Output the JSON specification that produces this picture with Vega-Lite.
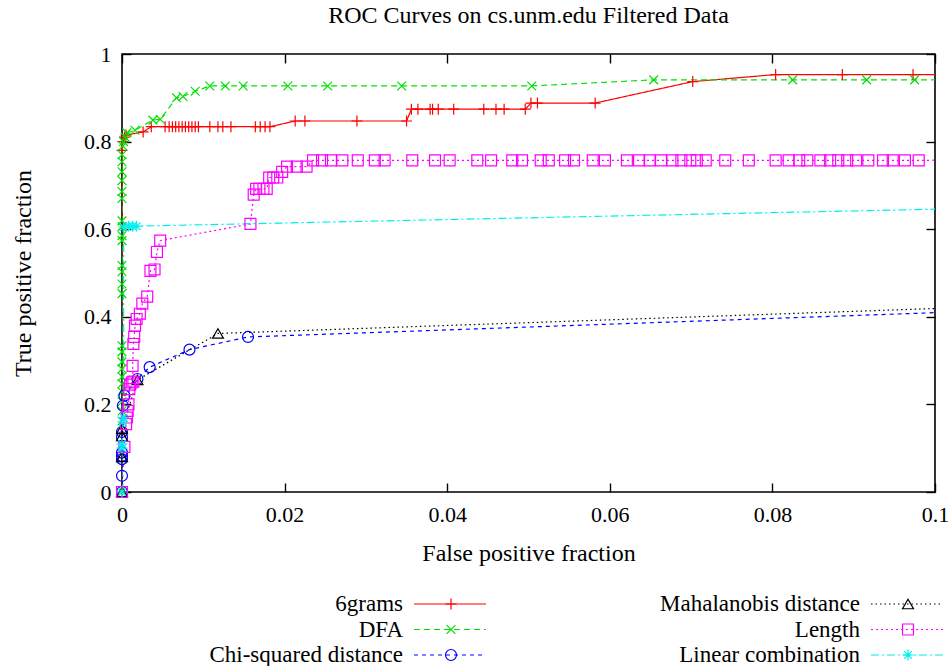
{
  "$schema": "https://vega.github.io/schema/vega-lite/v6.json",
  "padding": {"left": 10, "top": 3, "right": 0, "bottom": 0},
  "background": "white",
  "config": {
    "font": "Liberation Serif",
    "view": {"stroke": "black", "strokeWidth": 1.6},
    "axis": {"grid": false, "domain": false, "tickColor": "black", "tickWidth": 1.4, "tickSize": -9, "labelFont": "Liberation Serif", "labelFontSize": 22, "labelColor": "black", "titleFont": "Liberation Serif", "titleFontSize": 24, "titleFontWeight": "normal", "titleColor": "black", "labelFlush": false}
  },
  "datasets": {
    "curves": [
      {"s":"6grams","i":0,"fx":0,"fy":0},{"s":"6grams","i":1,"fx":0,"fy":0.78},{"s":"6grams","i":2,"fx":0.0001,"fy":0.8},{"s":"6grams","i":3,"fx":0.0003,"fy":0.81},{"s":"6grams","i":4,"fx":0.0005,"fy":0.815},{"s":"6grams","i":5,"fx":0.0026,"fy":0.822},{"s":"6grams","i":6,"fx":0.0036,"fy":0.834},{"s":"6grams","i":7,"fx":0.0053,"fy":0.834},{"s":"6grams","i":8,"fx":0.0058,"fy":0.834},{"s":"6grams","i":9,"fx":0.0062,"fy":0.834},{"s":"6grams","i":10,"fx":0.0066,"fy":0.834},{"s":"6grams","i":11,"fx":0.007,"fy":0.834},{"s":"6grams","i":12,"fx":0.0074,"fy":0.834},{"s":"6grams","i":13,"fx":0.0078,"fy":0.834},{"s":"6grams","i":14,"fx":0.0082,"fy":0.834},{"s":"6grams","i":15,"fx":0.0086,"fy":0.834},{"s":"6grams","i":16,"fx":0.009,"fy":0.834},{"s":"6grams","i":17,"fx":0.0094,"fy":0.834},{"s":"6grams","i":18,"fx":0.0108,"fy":0.834},{"s":"6grams","i":19,"fx":0.0118,"fy":0.834},{"s":"6grams","i":20,"fx":0.0124,"fy":0.834},{"s":"6grams","i":21,"fx":0.0134,"fy":0.834},{"s":"6grams","i":22,"fx":0.0164,"fy":0.834},{"s":"6grams","i":23,"fx":0.017,"fy":0.834},{"s":"6grams","i":24,"fx":0.0176,"fy":0.834},{"s":"6grams","i":25,"fx":0.0182,"fy":0.834},{"s":"6grams","i":26,"fx":0.0213,"fy":0.847},{"s":"6grams","i":27,"fx":0.0225,"fy":0.847},{"s":"6grams","i":28,"fx":0.0289,"fy":0.847},{"s":"6grams","i":29,"fx":0.035,"fy":0.847},{"s":"6grams","i":30,"fx":0.0356,"fy":0.874},{"s":"6grams","i":31,"fx":0.0364,"fy":0.874},{"s":"6grams","i":32,"fx":0.0379,"fy":0.874},{"s":"6grams","i":33,"fx":0.0382,"fy":0.874},{"s":"6grams","i":34,"fx":0.0389,"fy":0.874},{"s":"6grams","i":35,"fx":0.0408,"fy":0.874},{"s":"6grams","i":36,"fx":0.0445,"fy":0.874},{"s":"6grams","i":37,"fx":0.046,"fy":0.874},{"s":"6grams","i":38,"fx":0.047,"fy":0.874},{"s":"6grams","i":39,"fx":0.0496,"fy":0.874},{"s":"6grams","i":40,"fx":0.0503,"fy":0.888},{"s":"6grams","i":41,"fx":0.0511,"fy":0.888},{"s":"6grams","i":42,"fx":0.0582,"fy":0.888},{"s":"6grams","i":43,"fx":0.0702,"fy":0.937},{"s":"6grams","i":44,"fx":0.0804,"fy":0.953},{"s":"6grams","i":45,"fx":0.0886,"fy":0.953},{"s":"6grams","i":46,"fx":0.0973,"fy":0.953},{"s":"6grams","i":47,"fx":1,"fy":1},

      {"s":"DFA","i":0,"fx":0,"fy":0},{"s":"DFA","i":1,"fx":0,"fy":0.162},{"s":"DFA","i":2,"fx":0,"fy":0.185},{"s":"DFA","i":3,"fx":0,"fy":0.206},{"s":"DFA","i":4,"fx":0,"fy":0.229},{"s":"DFA","i":5,"fx":0,"fy":0.247},{"s":"DFA","i":6,"fx":0,"fy":0.263},{"s":"DFA","i":7,"fx":0,"fy":0.281},{"s":"DFA","i":8,"fx":0,"fy":0.297},{"s":"DFA","i":9,"fx":0,"fy":0.32},{"s":"DFA","i":10,"fx":0,"fy":0.334},{"s":"DFA","i":11,"fx":0,"fy":0.453},{"s":"DFA","i":12,"fx":0,"fy":0.475},{"s":"DFA","i":13,"fx":0,"fy":0.503},{"s":"DFA","i":14,"fx":0,"fy":0.517},{"s":"DFA","i":15,"fx":0,"fy":0.574},{"s":"DFA","i":16,"fx":0,"fy":0.585},{"s":"DFA","i":17,"fx":0,"fy":0.606},{"s":"DFA","i":18,"fx":0,"fy":0.619},{"s":"DFA","i":19,"fx":0,"fy":0.67},{"s":"DFA","i":20,"fx":0,"fy":0.686},{"s":"DFA","i":21,"fx":0,"fy":0.711},{"s":"DFA","i":22,"fx":0,"fy":0.731},{"s":"DFA","i":23,"fx":0,"fy":0.754},{"s":"DFA","i":24,"fx":0,"fy":0.77},{"s":"DFA","i":25,"fx":0.0001,"fy":0.79},{"s":"DFA","i":26,"fx":0.0002,"fy":0.8},{"s":"DFA","i":27,"fx":0.0004,"fy":0.81},{"s":"DFA","i":28,"fx":0.0006,"fy":0.82},{"s":"DFA","i":29,"fx":0.0016,"fy":0.826},{"s":"DFA","i":30,"fx":0.0038,"fy":0.849},{"s":"DFA","i":31,"fx":0.0047,"fy":0.851},{"s":"DFA","i":32,"fx":0.0067,"fy":0.9},{"s":"DFA","i":33,"fx":0.0075,"fy":0.903},{"s":"DFA","i":34,"fx":0.009,"fy":0.915},{"s":"DFA","i":35,"fx":0.0108,"fy":0.927},{"s":"DFA","i":36,"fx":0.0127,"fy":0.927},{"s":"DFA","i":37,"fx":0.0149,"fy":0.927},{"s":"DFA","i":38,"fx":0.0204,"fy":0.927},{"s":"DFA","i":39,"fx":0.0253,"fy":0.927},{"s":"DFA","i":40,"fx":0.0344,"fy":0.927},{"s":"DFA","i":41,"fx":0.0504,"fy":0.927},{"s":"DFA","i":42,"fx":0.0654,"fy":0.941},{"s":"DFA","i":43,"fx":0.0825,"fy":0.941},{"s":"DFA","i":44,"fx":0.0916,"fy":0.941},{"s":"DFA","i":45,"fx":0.0975,"fy":0.941},{"s":"DFA","i":46,"fx":1,"fy":1},

      {"s":"Chi-squared distance","i":0,"fx":0,"fy":0},{"s":"Chi-squared distance","i":1,"fx":0,"fy":0.037},{"s":"Chi-squared distance","i":2,"fx":0,"fy":0.075},{"s":"Chi-squared distance","i":3,"fx":0,"fy":0.082},{"s":"Chi-squared distance","i":4,"fx":0,"fy":0.09},{"s":"Chi-squared distance","i":5,"fx":0,"fy":0.125},{"s":"Chi-squared distance","i":6,"fx":0,"fy":0.137},{"s":"Chi-squared distance","i":7,"fx":0.0001,"fy":0.197},{"s":"Chi-squared distance","i":8,"fx":0.0003,"fy":0.22},{"s":"Chi-squared distance","i":9,"fx":0.0019,"fy":0.258},{"s":"Chi-squared distance","i":10,"fx":0.0034,"fy":0.285},{"s":"Chi-squared distance","i":11,"fx":0.0083,"fy":0.325},{"s":"Chi-squared distance","i":12,"fx":0.0155,"fy":0.354},{"s":"Chi-squared distance","i":13,"fx":1,"fy":1},

      {"s":"Mahalanobis distance","i":0,"fx":0,"fy":0},{"s":"Mahalanobis distance","i":1,"fx":0,"fy":0.08},{"s":"Mahalanobis distance","i":2,"fx":0,"fy":0.128},{"s":"Mahalanobis distance","i":3,"fx":0,"fy":0.144},{"s":"Mahalanobis distance","i":4,"fx":0.0019,"fy":0.256},{"s":"Mahalanobis distance","i":5,"fx":0.0118,"fy":0.362},{"s":"Mahalanobis distance","i":6,"fx":1,"fy":1},

      {"s":"Length","i":0,"fx":0,"fy":0},{"s":"Length","i":1,"fx":0.0003,"fy":0.103},{"s":"Length","i":2,"fx":0.0005,"fy":0.155},{"s":"Length","i":3,"fx":0.0006,"fy":0.17},{"s":"Length","i":4,"fx":0.0007,"fy":0.185},{"s":"Length","i":5,"fx":0.0008,"fy":0.2},{"s":"Length","i":6,"fx":0.0009,"fy":0.235},{"s":"Length","i":7,"fx":0.001,"fy":0.245},{"s":"Length","i":8,"fx":0.0012,"fy":0.25},{"s":"Length","i":9,"fx":0.0014,"fy":0.252},{"s":"Length","i":10,"fx":0.0013,"fy":0.288},{"s":"Length","i":11,"fx":0.0014,"fy":0.338},{"s":"Length","i":12,"fx":0.0015,"fy":0.354},{"s":"Length","i":13,"fx":0.0016,"fy":0.38},{"s":"Length","i":14,"fx":0.0018,"fy":0.395},{"s":"Length","i":15,"fx":0.0022,"fy":0.407},{"s":"Length","i":16,"fx":0.0025,"fy":0.43},{"s":"Length","i":17,"fx":0.0031,"fy":0.446},{"s":"Length","i":18,"fx":0.0035,"fy":0.505},{"s":"Length","i":19,"fx":0.004,"fy":0.508},{"s":"Length","i":20,"fx":0.0043,"fy":0.548},{"s":"Length","i":21,"fx":0.0047,"fy":0.574},{"s":"Length","i":22,"fx":0.0158,"fy":0.612},{"s":"Length","i":23,"fx":0.0162,"fy":0.679},{"s":"Length","i":24,"fx":0.0165,"fy":0.692},{"s":"Length","i":25,"fx":0.0169,"fy":0.692},{"s":"Length","i":26,"fx":0.0174,"fy":0.692},{"s":"Length","i":27,"fx":0.0178,"fy":0.692},{"s":"Length","i":28,"fx":0.0181,"fy":0.718},{"s":"Length","i":29,"fx":0.0186,"fy":0.718},{"s":"Length","i":30,"fx":0.0191,"fy":0.718},{"s":"Length","i":31,"fx":0.0197,"fy":0.731},{"s":"Length","i":32,"fx":0.0203,"fy":0.743},{"s":"Length","i":33,"fx":0.0215,"fy":0.743},{"s":"Length","i":34,"fx":0.0227,"fy":0.743},{"s":"Length","i":35,"fx":0.0235,"fy":0.757},{"s":"Length","i":36,"fx":0.0246,"fy":0.757},{"s":"Length","i":37,"fx":0.0257,"fy":0.757},{"s":"Length","i":38,"fx":0.0271,"fy":0.757},{"s":"Length","i":39,"fx":0.029,"fy":0.757},{"s":"Length","i":40,"fx":0.0311,"fy":0.757},{"s":"Length","i":41,"fx":0.0323,"fy":0.757},{"s":"Length","i":42,"fx":0.0357,"fy":0.757},{"s":"Length","i":43,"fx":0.0385,"fy":0.757},{"s":"Length","i":44,"fx":0.0403,"fy":0.757},{"s":"Length","i":45,"fx":0.0437,"fy":0.757},{"s":"Length","i":46,"fx":0.0454,"fy":0.757},{"s":"Length","i":47,"fx":0.048,"fy":0.757},{"s":"Length","i":48,"fx":0.0492,"fy":0.757},{"s":"Length","i":49,"fx":0.0515,"fy":0.757},{"s":"Length","i":50,"fx":0.0525,"fy":0.757},{"s":"Length","i":51,"fx":0.0545,"fy":0.757},{"s":"Length","i":52,"fx":0.0556,"fy":0.757},{"s":"Length","i":53,"fx":0.0579,"fy":0.757},{"s":"Length","i":54,"fx":0.0594,"fy":0.757},{"s":"Length","i":55,"fx":0.0621,"fy":0.757},{"s":"Length","i":56,"fx":0.0636,"fy":0.757},{"s":"Length","i":57,"fx":0.0649,"fy":0.757},{"s":"Length","i":58,"fx":0.0663,"fy":0.757},{"s":"Length","i":59,"fx":0.0677,"fy":0.757},{"s":"Length","i":60,"fx":0.0688,"fy":0.757},{"s":"Length","i":61,"fx":0.0699,"fy":0.757},{"s":"Length","i":62,"fx":0.0707,"fy":0.757},{"s":"Length","i":63,"fx":0.0718,"fy":0.757},{"s":"Length","i":64,"fx":0.0742,"fy":0.757},{"s":"Length","i":65,"fx":0.0771,"fy":0.757},{"s":"Length","i":66,"fx":0.0804,"fy":0.757},{"s":"Length","i":67,"fx":0.082,"fy":0.757},{"s":"Length","i":68,"fx":0.0833,"fy":0.757},{"s":"Length","i":69,"fx":0.0843,"fy":0.757},{"s":"Length","i":70,"fx":0.0859,"fy":0.757},{"s":"Length","i":71,"fx":0.0871,"fy":0.757},{"s":"Length","i":72,"fx":0.0881,"fy":0.757},{"s":"Length","i":73,"fx":0.0892,"fy":0.757},{"s":"Length","i":74,"fx":0.0903,"fy":0.757},{"s":"Length","i":75,"fx":0.0918,"fy":0.757},{"s":"Length","i":76,"fx":0.0936,"fy":0.757},{"s":"Length","i":77,"fx":0.0948,"fy":0.757},{"s":"Length","i":78,"fx":0.0963,"fy":0.757},{"s":"Length","i":79,"fx":0.098,"fy":0.757},{"s":"Length","i":80,"fx":1,"fy":1},

      {"s":"Linear combination","i":0,"fx":0,"fy":0},{"s":"Linear combination","i":1,"fx":0,"fy":0.1},{"s":"Linear combination","i":2,"fx":0,"fy":0.11},{"s":"Linear combination","i":3,"fx":0.0001,"fy":0.16},{"s":"Linear combination","i":4,"fx":0.0002,"fy":0.17},{"s":"Linear combination","i":5,"fx":0.0002,"fy":0.605},{"s":"Linear combination","i":6,"fx":0.0008,"fy":0.607},{"s":"Linear combination","i":7,"fx":0.0013,"fy":0.607},{"s":"Linear combination","i":8,"fx":0.0018,"fy":0.607},{"s":"Linear combination","i":9,"fx":1,"fy":1}
    ],
    "keys": [
      {"s":"6grams","col":0,"row":0},{"s":"DFA","col":0,"row":1},{"s":"Chi-squared distance","col":0,"row":2},
      {"s":"Mahalanobis distance","col":1,"row":0},{"s":"Length","col":1,"row":1},{"s":"Linear combination","col":1,"row":2}
    ]
  },
  "spacing": 20,
  "vconcat": [
    {
      "width": 813,
      "height": 438,
      "title": {"text": "ROC Curves on cs.unm.edu Filtered Data", "font": "Liberation Serif", "fontSize": 24, "fontWeight": "normal", "color": "black", "anchor": "middle", "offset": 15},
      "data": {"name": "curves"},
      "layer": [
        {
          "mark": {"type": "line", "clip": true, "strokeWidth": 1.2},
          "encoding": {
            "x": {"field": "fx", "type": "quantitative", "scale": {"domain": [0, 0.1], "nice": false, "zero": false},
                  "axis": {"orient": "bottom", "values": [0, 0.02, 0.04, 0.06, 0.08, 0.1], "format": "~g", "labelPadding": 21, "title": "False positive fraction", "titlePadding": 16}},
            "y": {"field": "fy", "type": "quantitative", "scale": {"domain": [0, 1], "nice": false, "zero": false},
                  "axis": {"orient": "left", "values": [0, 0.2, 0.4, 0.6, 0.8, 1], "format": "~g", "labelPadding": 20, "title": "True positive fraction", "titlePadding": 48}},
            "color": {"field": "s", "type": "nominal", "legend": null,
                      "scale": {"domain": ["6grams", "DFA", "Chi-squared distance", "Mahalanobis distance", "Length", "Linear combination"], "range": ["#ff0000", "#00e000", "#0000ff", "#000000", "#ff00ff", "#00eeee"]}},
            "strokeDash": {"field": "s", "type": "nominal", "legend": null,
                      "scale": {"domain": ["6grams", "DFA", "Chi-squared distance", "Mahalanobis distance", "Length", "Linear combination"], "range": [[1, 0], [6, 4], [4, 4], [1.5, 3], [2, 3], [8, 3, 2, 3]]}},
            "order": {"field": "i", "type": "quantitative"}
          }
        },
        {
          "transform": [{"filter": "datum.fx <= 0.1"}],
          "mark": {"type": "point", "filled": false, "strokeWidth": 1.2, "size": 120, "opacity": 1},
          "encoding": {
            "x": {"field": "fx", "type": "quantitative", "axis": {"orient": "top", "values": [0, 0.02, 0.04, 0.06, 0.08, 0.1], "labels": false, "title": null}},
            "y": {"field": "fy", "type": "quantitative", "axis": {"orient": "right", "values": [0, 0.2, 0.4, 0.6, 0.8, 1], "labels": false, "title": null}},
            "color": {"field": "s", "type": "nominal", "legend": null},
            "shape": {"field": "s", "type": "nominal", "legend": null,
                      "scale": {"domain": ["6grams", "DFA", "Chi-squared distance", "Mahalanobis distance", "Length", "Linear combination"],
                                "range": ["M-1,0L1,0M0,-1L0,1", "M-0.8,-0.8L0.8,0.8M-0.8,0.8L0.8,-0.8", "circle", "triangle-up", "square", "M-1,0L1,0M0,-1L0,1M-0.7,-0.7L0.7,0.7M-0.7,0.7L0.7,-0.7"]}}
          }
        }
      ],
      "resolve": {"axis": {"x": "independent", "y": "independent"}}
    },
    {
      "width": 820,
      "height": 80,
      "view": {"stroke": null},
      "data": {"name": "keys"},
      "layer": [
        {
          "mark": {"type": "text", "align": "right", "baseline": "middle", "font": "Liberation Serif", "fontSize": 23, "color": "black"},
          "encoding": {
            "x": {"field": "col", "type": "quantitative", "scale": {"domain": [0, 1], "range": [281, 738]}, "axis": null},
            "y": {"field": "row", "type": "quantitative", "scale": {"domain": [0, 2], "range": [18, 69]}, "axis": null},
            "text": {"field": "s"}
          }
        },
        {
          "mark": {"type": "rule", "xOffset": 11, "x2Offset": 83, "strokeWidth": 1.2},
          "encoding": {
            "x": {"field": "col", "type": "quantitative", "scale": {"domain": [0, 1], "range": [281, 738]}, "axis": null},
            "x2": {"field": "col"},
            "y": {"field": "row", "type": "quantitative", "scale": {"domain": [0, 2], "range": [18, 69]}, "axis": null},
            "color": {"field": "s", "type": "nominal", "legend": null,
                      "scale": {"domain": ["6grams", "DFA", "Chi-squared distance", "Mahalanobis distance", "Length", "Linear combination"], "range": ["#ff0000", "#00e000", "#0000ff", "#000000", "#ff00ff", "#00eeee"]}},
            "strokeDash": {"field": "s", "type": "nominal", "legend": null,
                      "scale": {"domain": ["6grams", "DFA", "Chi-squared distance", "Mahalanobis distance", "Length", "Linear combination"], "range": [[1, 0], [6, 4], [4, 4], [1.5, 3], [2, 3], [8, 3, 2, 3]]}}
          }
        },
        {
          "mark": {"type": "point", "xOffset": 48, "filled": false, "strokeWidth": 1.2, "size": 120, "opacity": 1},
          "encoding": {
            "x": {"field": "col", "type": "quantitative", "scale": {"domain": [0, 1], "range": [281, 738]}, "axis": null},
            "y": {"field": "row", "type": "quantitative", "scale": {"domain": [0, 2], "range": [18, 69]}, "axis": null},
            "color": {"field": "s", "type": "nominal", "legend": null,
                      "scale": {"domain": ["6grams", "DFA", "Chi-squared distance", "Mahalanobis distance", "Length", "Linear combination"], "range": ["#ff0000", "#00e000", "#0000ff", "#000000", "#ff00ff", "#00eeee"]}},
            "shape": {"field": "s", "type": "nominal", "legend": null,
                      "scale": {"domain": ["6grams", "DFA", "Chi-squared distance", "Mahalanobis distance", "Length", "Linear combination"],
                                "range": ["M-1,0L1,0M0,-1L0,1", "M-0.8,-0.8L0.8,0.8M-0.8,0.8L0.8,-0.8", "circle", "triangle-up", "square", "M-1,0L1,0M0,-1L0,1M-0.7,-0.7L0.7,0.7M-0.7,0.7L0.7,-0.7"]}}
          }
        }
      ]
    }
  ]
}
